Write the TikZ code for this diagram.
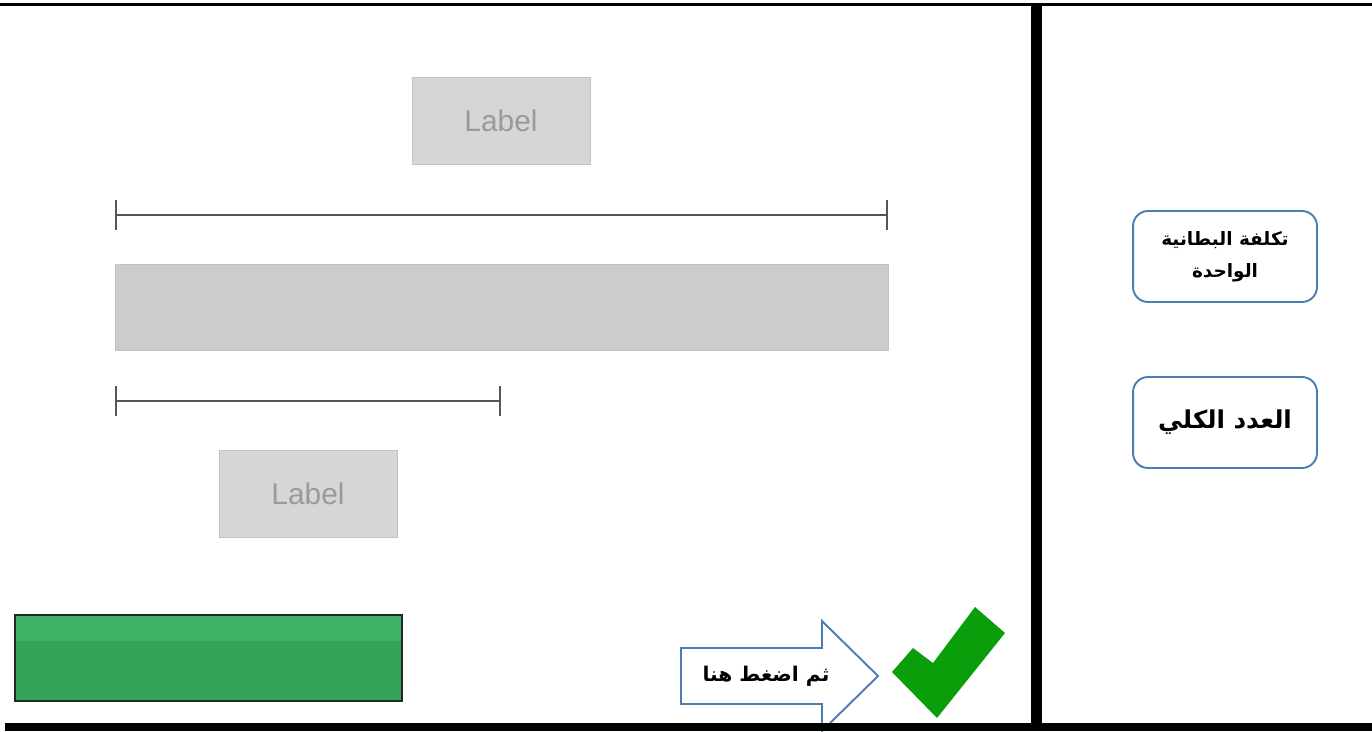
\documentclass[tikz,border=0pt]{standalone}
\usepackage{fontspec}
\setmainfont{Liberation Sans}
\newfontfamily\arabicfont[Script=Arabic]{DejaVu Sans}
\TeXXeTstate=1
\usepackage{tikz}
\usetikzlibrary{arrows.meta}
\definecolor{labelgray}{HTML}{D6D6D6}
\definecolor{labeledge}{HTML}{C2C2C2}
\definecolor{labeltext}{HTML}{9A9A9A}
\definecolor{bargray}{HTML}{CCCCCC}
\definecolor{rangegray}{HTML}{555555}
\definecolor{btngreen}{HTML}{33A457}
\definecolor{btnlight}{HTML}{3EB368}
\definecolor{panelblue}{HTML}{4A7EB5}
\definecolor{checkgreen}{HTML}{0A9E0A}
\tikzstyle{labelbox} = [align=center,draw=labeledge,fill=labelgray,rectangle,minimum width=3.56cm,minimum height=1.74cm,text=labeltext,font=\fontsize{17}{20}\selectfont]
\tikzstyle{trackbox} = [draw=labeledge,fill=bargray,rectangle,minimum width=15.46cm,minimum height=1.72cm]
\tikzstyle{spanline} = [draw=rangegray,line width=1pt,{Bar[width=0.6cm]}-{Bar[width=0.6cm]}]
\tikzstyle{panel} = [align=center,draw=panelblue,line width=1.1pt,fill=white,rounded corners=0.3cm,minimum width=3.68cm,minimum height=1.82cm,text centered]
\tikzstyle{frameline} = [draw=black]

\begin{document}
\begin{tikzpicture}[x=0.02cm,y=-0.02cm]
				\useasboundingbox (0,0) rectangle (1372,731);
				\node (top) [labelbox] at (501,120.5) {Label};
				\node (bottom) [labelbox] at (308,493.5) {Label};
				\node (track) [trackbox] at (501.5,307) {};
				\coordinate (full_l) at (115,215);
				\coordinate (full_r) at (888,215);
				\coordinate (part_l) at (115,401);
				\coordinate (part_r) at (501,401);
				\draw [spanline] (full_l) -- (full_r);
				\draw [spanline] (part_l) -- (part_r);
				\node (go) [draw=black!85,line width=1pt,fill=btngreen,minimum width=7.74cm,minimum height=1.72cm,
					path picture={\fill [btnlight] (path picture bounding box.north west) rectangle ([yshift=-0.52cm]path picture bounding box.north east);}] at (208.5,658) {};
				\node (cost) [panel,font=\arabicfont\bfseries\fontsize{10.5}{18}\selectfont] at (1225,256.5) {\beginR تكلفة البطانية\endR\\\beginR الواحدة\endR};
				\node (count) [panel,font=\arabicfont\bfseries\fontsize{14}{18}\selectfont] at (1225,422.5) {\beginR العدد الكلي\endR};
				\draw [draw=panelblue,line width=1.1pt,fill=white] (681,648) -- (822,648) -- (822,621) -- (878,676) -- (822,731) -- (822,704) -- (681,704) -- cycle;
				\node (hint) [font=\arabicfont\bfseries\fontsize{11.5}{14}\selectfont] at (766,676) {\beginR ثم اضغط هنا\endR};
				\fill [checkgreen] (892,672) -- (913,648) -- (933,663) -- (975,607) -- (1005,633) -- (937,718) -- cycle;
				\draw [frameline,line width=1.5pt] (0,4.5) -- (1372,4.5);
				\draw [frameline,line width=6.8pt] (1036.5,3) -- (1036.5,727);
				\draw [frameline,line width=4.5pt] (5,727) -- (1372,727);
			\end{tikzpicture}
\end{document}
